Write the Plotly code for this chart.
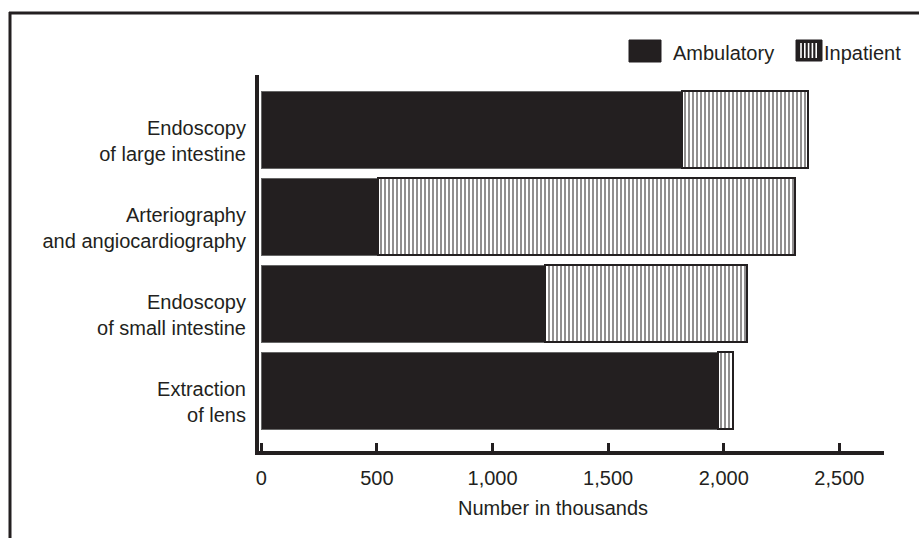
import plotly.graph_objects as go

categories = ["Extraction<br>of lens", "Endoscopy<br>of small intestine",
              "Arteriography<br>and angiocardiography", "Endoscopy<br>of large intestine"]
ambulatory = [1974, 1225, 506, 1818]
inpatient = [65, 875, 1800, 546]
x_ticks = [0, 500, 1000, 1500, 2000, 2500]
x_tick_labels = ["0", "500", "1,000", "1,500", "2,000", "2,500"]

DARK = "#231f20"
FONT = "Liberation Sans, Arial, Helvetica, sans-serif"
FS = 20

fig = go.Figure()
fig.add_trace(go.Bar(
    y=categories, x=ambulatory, orientation="h", name="Ambulatory",
    marker=dict(color=DARK, line=dict(color="#666", width=1.2)),
    showlegend=False,
))
fig.add_trace(go.Bar(
    y=categories, x=inpatient, orientation="h", name="Inpatient",
    marker=dict(color="white",
                pattern=dict(shape="|", fgcolor=DARK, bgcolor="white", size=4, solidity=0.5),
                line=dict(color=DARK, width=2)),
    showlegend=False,
))

W, H = 919, 538
L, R, T, B = 259, 35, 75, 87
pw, ph = W - L - R, H - T - B

def px(x):
    return (x - L) / pw

def py(y):
    return (H - B - y) / ph

shapes = [
    dict(type="line", xref="paper", yref="paper", x0=px(9), x1=px(919), y0=py(13), y1=py(13),
         line=dict(color=DARK, width=3)),
    dict(type="line", xref="paper", yref="paper", x0=px(10), x1=px(10), y0=py(12), y1=py(540),
         line=dict(color=DARK, width=3)),
    dict(type="rect", xref="paper", yref="paper", x0=px(629), x1=px(661), y0=py(40), y1=py(62),
         fillcolor=DARK, line=dict(color=DARK, width=1)),
    dict(type="rect", xref="paper", yref="paper", x0=px(796), x1=px(822), y0=py(40), y1=py(61),
         fillcolor=DARK, line=dict(color=DARK, width=1)),
]
for i in range(5):
    xx = 801 + i * 3.8
    shapes.append(dict(type="line", xref="paper", yref="paper", x0=px(xx), x1=px(xx),
                       y0=py(43), y1=py(58), line=dict(color="white", width=1.6)))

annotations = [
    dict(text="Ambulatory", xref="paper", yref="paper", x=px(671), y=py(53),
         xanchor="left", yanchor="middle", showarrow=False,
         font=dict(family=FONT, size=FS, color=DARK)),
    dict(text="Inpatient", xref="paper", yref="paper", x=px(822), y=py(53),
         xanchor="left", yanchor="middle", showarrow=False,
         font=dict(family=FONT, size=FS, color=DARK)),
    dict(text="Number in thousands", xref="paper", yref="paper", x=px(553), y=py(508),
         xanchor="center", yanchor="middle", showarrow=False,
         font=dict(family=FONT, size=FS, color=DARK)),
]

fig.update_layout(
    barmode="stack", bargap=0.115,
    width=W, height=H,
    margin=dict(l=L, r=R, t=T, b=B, pad=0),
    paper_bgcolor="white", plot_bgcolor="white",
    font=dict(family=FONT, size=FS, color=DARK),
    shapes=shapes, annotations=annotations,
    showlegend=False,
)
fig.update_xaxes(
    range=[-10, 2693], tickvals=x_ticks, ticktext=x_tick_labels,
    showgrid=False, zeroline=False, showline=True, linecolor=DARK, linewidth=4,
    ticks="inside", ticklen=8, tickwidth=3, tickcolor=DARK,
    tickfont=dict(family=FONT, size=FS, color=DARK), ticklabelstandoff=6,
)
fig.update_yaxes(
    type="category", range=[-0.69, 3.63],
    showgrid=False, zeroline=False, showline=True, linecolor=DARK, linewidth=4,
    ticks="", ticklabelstandoff=5, ticklabelshift=11,
    tickfont=dict(family=FONT, size=FS, color=DARK),
)

fig.write_html("out.html", config={"displayModeBar": False},
               post_script="document.body.style.margin='0';document.body.style.overflow='hidden';")
